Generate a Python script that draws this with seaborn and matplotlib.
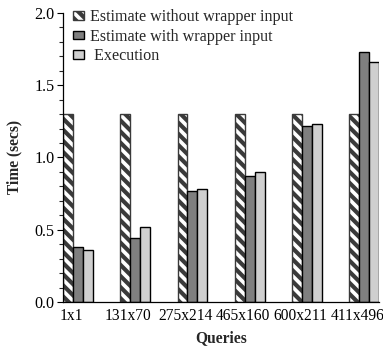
import matplotlib
matplotlib.use("Agg")
import matplotlib.pyplot as plt
from matplotlib.ticker import MultipleLocator, FormatStrFormatter
from matplotlib.transforms import ScaledTranslation
import seaborn as sns
import pandas as pd

queries = ["1x1", "131x70", "275x214", "465x160", "600x211", "411x496"]
series_names = ["Estimate without wrapper input", "Estimate with wrapper input", " Execution"]
est_without = [1.30, 1.30, 1.30, 1.30, 1.30, 1.30]
est_with = [0.38, 0.44, 0.77, 0.87, 1.22, 1.73]
execution = [0.36, 0.52, 0.78, 0.90, 1.23, 1.66]

rows = []
for name, vals in zip(series_names, [est_without, est_with, execution]):
    for q, v in zip(queries, vals):
        rows.append({"Query": q, "Series": name, "Time": v})
df = pd.DataFrame(rows)

DPI = 100

sns.set_theme(style="ticks")
plt.rcParams["font.family"] = ["Liberation Serif", "DejaVu Serif"]
plt.rcParams["hatch.linewidth"] = 3.0

fig = plt.figure(figsize=(383 / DPI, 351 / DPI), dpi=DPI)
ax = fig.add_axes([0.1645, 0.1396, 0.8255, 0.8234])

FS = 11.2
palette = ["#ffffff", "#7f7f7f", "#cfcfcf"]
sns.barplot(data=df, x="Query", y="Time", hue="Series", hue_order=series_names,
            order=queries, palette=palette, width=0.52, dodge=True,
            edgecolor="black", linewidth=1.0, errorbar=None, ax=ax, legend=False)

for p in ax.containers[0].patches:
    p.set_hatch("\\\\\\")
    p.set_edgecolor("#3a3a3a")
    p.set_facecolor("white")

ax.set_xlim(-0.26, 5.26)
ax.set_ylim(0, 2.0)
ax.yaxis.set_major_locator(MultipleLocator(0.5))
ax.yaxis.set_minor_locator(MultipleLocator(0.1))
ax.yaxis.set_major_formatter(FormatStrFormatter("%.1f"))
ax.tick_params(axis="y", which="major", direction="out", length=4, width=0.8,
               labelsize=11.6, pad=2, colors="black")
ax.tick_params(axis="y", which="minor", direction="out", length=3, width=0.8)
ax.tick_params(axis="x", length=0, labelsize=FS, pad=4, colors="black")
for s in ["top", "right"]:
    ax.spines[s].set_visible(False)
for s in ["left", "bottom"]:
    ax.spines[s].set_color("black")
    ax.spines[s].set_linewidth(0.9)

shift = ScaledTranslation(-7 / DPI, 0, fig.dpi_scale_trans)
for lbl in ax.get_xticklabels():
    lbl.set_transform(lbl.get_transform() + shift)

ax.set_xlabel("Queries", fontsize=FS, fontweight="bold", labelpad=5)
ax.set_ylabel("Time (secs)", fontsize=FS, fontweight="bold", labelpad=9)

ax.legend(ax.containers, series_names, loc="upper left", bbox_to_anchor=(0.01, 1.035),
          frameon=False, fontsize=11.6, handlelength=0.7, handleheight=0.45,
          handletextpad=0.35, labelspacing=0.22, borderaxespad=0)

fig.savefig("out.png", dpi=DPI)
